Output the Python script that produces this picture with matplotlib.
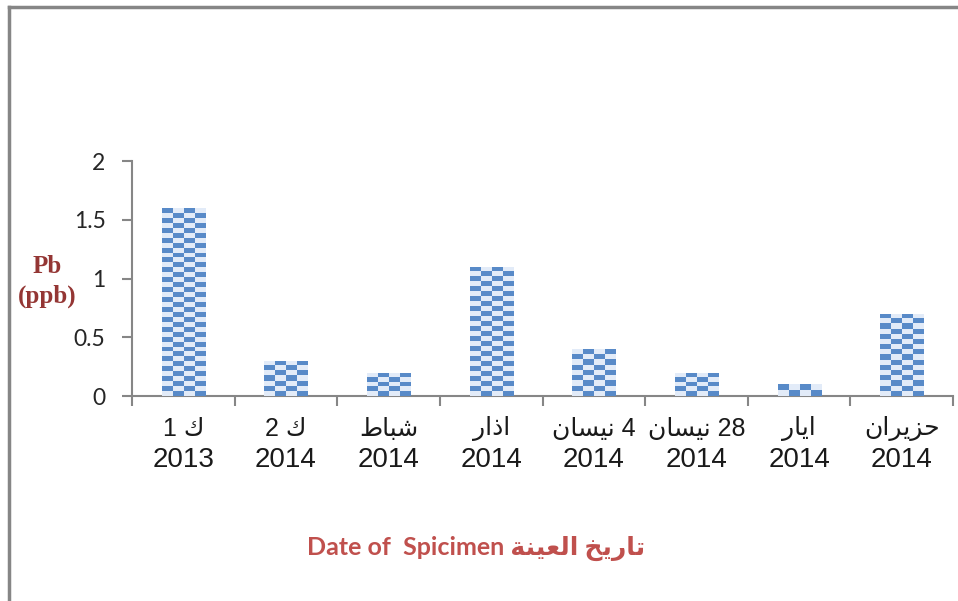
import numpy as np
import matplotlib.pyplot as plt
from matplotlib.lines import Line2D

# data
months = ["ك 1", "ك 2", "شباط", "اذار", "4 نيسان", "28 نيسان", "ايار", "حزيران"]
years = ["2013", "2014", "2014", "2014", "2014", "2014", "2014", "2014"]
pb = [1.6, 0.3, 0.2, 1.1, 0.4, 0.2, 0.1, 0.7]
yticks = [0, 0.5, 1, 1.5, 2]
ytick_labels = ["0", "0.5", "1", "1.5", "2"]

# matplotlib has no arabic shaping, so do it by hand with presentation forms
# letter: (isolated, final, initial, medial)
FORMS = {
    'ا': ('\uFE8D', '\uFE8E', None, None),
    'ب': ('\uFE8F', '\uFE90', '\uFE91', '\uFE92'),
    'ة': ('\uFE93', '\uFE94', None, None),
    'ت': ('\uFE95', '\uFE96', '\uFE97', '\uFE98'),
    'ح': ('\uFEA1', '\uFEA2', '\uFEA3', '\uFEA4'),
    'خ': ('\uFEA5', '\uFEA6', '\uFEA7', '\uFEA8'),
    'ذ': ('\uFEAB', '\uFEAC', None, None),
    'ر': ('\uFEAD', '\uFEAE', None, None),
    'ز': ('\uFEAF', '\uFEB0', None, None),
    'س': ('\uFEB1', '\uFEB2', '\uFEB3', '\uFEB4'),
    'ش': ('\uFEB5', '\uFEB6', '\uFEB7', '\uFEB8'),
    'ط': ('\uFEC1', '\uFEC2', '\uFEC3', '\uFEC4'),
    'ع': ('\uFEC9', '\uFECA', '\uFECB', '\uFECC'),
    'ك': ('\uFED9', '\uFEDA', '\uFEDB', '\uFEDC'),
    'ل': ('\uFEDD', '\uFEDE', '\uFEDF', '\uFEE0'),
    'ن': ('\uFEE5', '\uFEE6', '\uFEE7', '\uFEE8'),
    'ي': ('\uFEF1', '\uFEF2', '\uFEF3', '\uFEF4'),
}


def shape_word(w):
    out = []
    for i, c in enumerate(w):
        f = FORMS[c]
        prev_joins = i > 0 and FORMS[w[i - 1]][2] is not None
        next_joins = i < len(w) - 1 and f[2] is not None
        if prev_joins and next_joins:
            out.append(f[3])
        elif prev_joins:
            out.append(f[1])
        elif next_joins:
            out.append(f[2])
        else:
            out.append(f[0])
    return ''.join(out)


def visual(s):
    # right-to-left: tokens reversed, arabic words reversed, numbers kept
    toks = s.split(' ')
    res = []
    for t in toks:
        if t.isdigit():
            res.append(t)
        else:
            res.append(shape_word(t)[::-1])
    return ' '.join(res[::-1])


fig = plt.figure(figsize=(9.58, 6.01), dpi=100)
ax = fig.add_axes([0.1378, 0.341, 0.857, 0.391])

x = np.arange(len(pb))
bars = ax.bar(x, pb, width=0.42, color='#e2ebf6', edgecolor='none', zorder=2)

# checker fill like the excel pattern
dark = np.array([88, 138, 200]) / 255.
light = np.array([226, 235, 248]) / 255.
for b in bars:
    h = b.get_height()
    nrows = max(1, int(round(h / 0.0425)))
    img = np.zeros((nrows, 4, 3))
    for r in range(nrows):
        for c in range(4):
            img[nrows - 1 - r, c] = dark if (r + c) % 2 == 1 else light
    im = ax.imshow(img, extent=(b.get_x(), b.get_x() + b.get_width(), 0, h),
                   aspect='auto', interpolation='nearest', zorder=3)
    im.set_clip_path(b)

ax.set_xlim(-0.5, len(pb) - 0.5)
ax.set_ylim(0, 2)
ax.set_yticks(yticks)
ax.set_yticklabels(ytick_labels, family=['Lato', 'DejaVu Sans'], fontsize=16.5, color='#262626')

# years as tick labels, month names as a row above them
ax.set_xticks(x)
ax.set_xticklabels(years, family='Liberation Sans', fontsize=20, color='#1a1a1a')
for xi, m in zip(x, months):
    ax.text(xi, -0.140, visual(m), transform=ax.get_xaxis_transform(), ha='center', va='center',
            family=['Liberation Sans', 'DejaVu Sans'], fontsize=18, color='#1a1a1a')
ax.set_xticks(np.arange(len(pb) + 1) - 0.5, minor=True)
ax.tick_params(axis='x', which='major', length=0, pad=37)
ax.tick_params(axis='x', which='minor', length=7, color='#868686', width=1.5, direction='out')
ax.tick_params(axis='y', length=7, color='#868686', width=1.5, pad=12)

for s in ['top', 'right']:
    ax.spines[s].set_visible(False)
for s in ['left', 'bottom']:
    ax.spines[s].set_color('#868686')
    ax.spines[s].set_linewidth(1.5)

ax.set_ylabel("Pb\n(ppb)", rotation=0, ha='center', va='center', family='Liberation Serif',
              fontweight='bold', fontsize=18, color='#943634', linespacing=1.35)
ax.yaxis.set_label_coords(-0.1035, 0.489)

ax.set_xlabel("Date of  Spicimen " + visual("تاريخ العينة"), family=['Lato', 'DejaVu Sans'],
              fontweight='bold', fontsize=18, color='#c0504d', va='center')
ax.xaxis.set_label_coords(0.419, -0.647)

# outer chart frame (only left and top show)
fig.add_artist(Line2D([0.0099, 0.0099], [0, 0.988], color='#868686', lw=2.5, transform=fig.transFigure))
fig.add_artist(Line2D([0.0099, 1], [0.988, 0.988], color='#868686', lw=2.5, transform=fig.transFigure))

fig.savefig("out.png", dpi=100)
